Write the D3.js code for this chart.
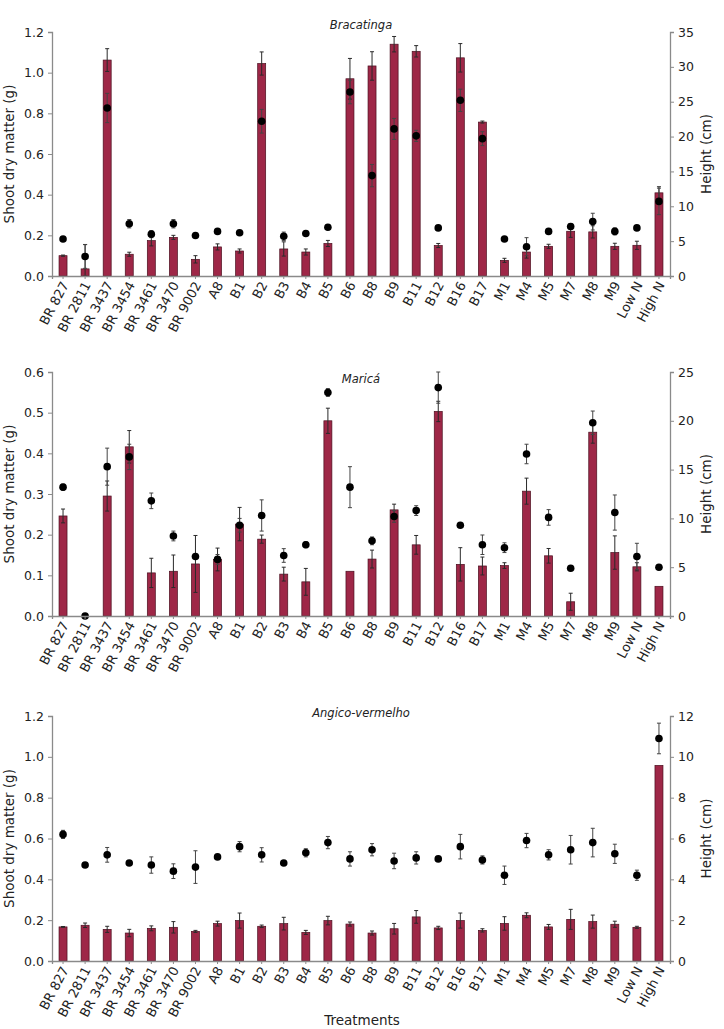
<!DOCTYPE html>
<html>
<head>
<meta charset="utf-8">
<script src="https://cdn.jsdelivr.net/npm/d3@7"></script>
<style>
  body { margin: 0; background: #fff; }
  svg text { font-family: 'DejaVu Sans', sans-serif; fill: #222; }
</style>
</head>
<body>
<div id="chart"></div>
<script>
let treatments = ['BR 827', 'BR 2811', 'BR 3437', 'BR 3454', 'BR 3461', 'BR 3470', 'BR 9002', 'A8',
  'B1', 'B2', 'B3', 'B4', 'B5', 'B6', 'B8', 'B9', 'B11', 'B12', 'B16', 'B17',
  'M1', 'M4', 'M5', 'M7', 'M8', 'M9', 'Low N', 'High N']

// Bracatinga
let bracDry = [0.100, 0.035, 1.062, 0.107, 0.174, 0.190, 0.082, 0.143, 0.123, 1.045, 0.133, 0.118, 0.160, 0.970,
  1.033, 1.140, 1.105, 0.150, 1.073, 0.757, 0.077, 0.118, 0.146, 0.220, 0.217, 0.146, 0.151, 0.409]
let bracDryErr = [0.003, 0.120, 0.056, 0.010, 0.026, 0.010, 0.018, 0.015, 0.010, 0.057, 0.035, 0.015, 0.015, 0.100,
  0.070, 0.038, 0.028, 0.010, 0.070, 0.005, 0.010, 0.030, 0.010, 0.030, 0.030, 0.015, 0.020, 0.030]
let bracHeight = [5.3, 2.8, 24.1, 7.5, 6.0, 7.5, 5.8, 6.4, 6.2, 22.2, 5.7, 6.1, 7.0, 26.4,
  14.4, 21.1, 20.1, 6.9, 25.2, 19.7, 5.3, 4.2, 6.4, 7.1, 7.8, 6.4, 6.9, 10.7]
let bracHeightErr = [0, 1.7, 2.1, 0.6, 0.5, 0.6, 0, 0, 0, 1.7, 0.6, 0, 0, 1.7,
  1.6, 1.5, 0.8, 0, 1.6, 1.0, 0, 1.3, 0.3, 0.4, 1.2, 0.5, 0, 1.9]

// Maricá
let mariDry = [0.246, 0, 0.295, 0.416, 0.106, 0.110, 0.128, 0.139, 0.226, 0.189, 0.103, 0.084, 0.480, 0.110,
  0.140, 0.261, 0.175, 0.503, 0.127, 0.123, 0.124, 0.307, 0.148, 0.035, 0.452, 0.156, 0.121, 0.073]
let mariDryErr = [0.017, 0, 0.037, 0.040, 0.036, 0.040, 0.070, 0.028, 0.041, 0.010, 0.017, 0.033, 0.031, 0,
  0.022, 0.014, 0.023, 0.025, 0.041, 0.022, 0.007, 0.032, 0.018, 0.021, 0.027, 0.041, 0.010, 0]
let mariHeight = [13.2, 0, 15.3, 16.3, 11.8, 8.2, 6.1, 5.8, 9.3, 10.3, 6.2, 7.3, 22.9, 13.2,
  7.7, 10.2, 10.8, 23.4, 9.3, 7.3, 7.0, 16.6, 10.1, 4.9, 19.8, 10.6, 6.1, 5.0]
let mariHeightErr = [0.3, 0, 1.9, 1.3, 0.8, 0.5, 0, 0.5, 0.7, 1.6, 0.7, 0.3, 0.4, 2.1,
  0.4, 0.6, 0.5, 1.6, 0, 1.0, 0.5, 1.0, 0.8, 0, 1.2, 1.8, 1.35, 0]

// Angico-vermelho
let angiDry = [0.167, 0.175, 0.155, 0.137, 0.160, 0.165, 0.145, 0.183, 0.198, 0.170, 0.183, 0.140, 0.198, 0.181,
  0.137, 0.158, 0.216, 0.162, 0.198, 0.150, 0.184, 0.224, 0.167, 0.204, 0.193, 0.180, 0.165, 0.958]
let angiDryErr = [0.002, 0.011, 0.015, 0.018, 0.012, 0.028, 0.005, 0.012, 0.037, 0.006, 0.031, 0.010, 0.021, 0.010,
  0.010, 0.026, 0.031, 0.008, 0.037, 0.008, 0.033, 0.012, 0.012, 0.049, 0.032, 0.015, 0.005, 0]
let angiHeight = [6.2, 4.7, 5.2, 4.8, 4.7, 4.4, 4.6, 5.1, 5.6, 5.2, 4.8, 5.3, 5.8, 5.0,
  5.45, 4.9, 5.05, 5.0, 5.6, 4.95, 4.2, 5.9, 5.2, 5.45, 5.8, 5.25, 4.2, 10.9]
let angiHeightErr = [0.2, 0, 0.36, 0, 0.4, 0.36, 0.8, 0, 0.25, 0.35, 0, 0.2, 0.3, 0.35,
  0.3, 0.38, 0.3, 0, 0.6, 0.2, 0.45, 0.35, 0.25, 0.7, 0.7, 0.47, 0.25, 0.75]

let panels = [
  { title: 'Bracatinga', dry: bracDry, dryErr: bracDryErr, height: bracHeight, heightErr: bracHeightErr,
    dryMax: 1.2, dryStep: 0.2, hMax: 35, hStep: 5, top: 32, bottom: 276, titleY: 25 },
  { title: 'Maricá', dry: mariDry, dryErr: mariDryErr, height: mariHeight, heightErr: mariHeightErr,
    dryMax: 0.6, dryStep: 0.1, hMax: 25, hStep: 5, top: 372, bottom: 616, titleY: 379 },
  { title: 'Angico-vermelho', dry: angiDry, dryErr: angiDryErr, height: angiHeight, heightErr: angiHeightErr,
    dryMax: 1.2, dryStep: 0.2, hMax: 12, hStep: 2, top: 716, bottom: 961, titleY: 713 }
]

let left = 52
let right = 670
let barColor = '#9e2747'
let axisColor = '#8a8a8a'

let svg = d3
  .select('#chart')
  .append('svg')
  .attr('width', 724)
  .attr('height', 1029)

let xScale = d3
  .scaleBand()
  .domain(treatments)
  .range([left, right])
  .padding(0)

let barWidth = 8

panels.forEach(p => {
  let g = svg.append('g')

  let yDry = d3.scaleLinear().domain([0, p.dryMax]).range([p.bottom, p.top])
  let yH = d3.scaleLinear().domain([0, p.hMax]).range([p.bottom, p.top])

  let rows = treatments.map((t, i) => ({
    name: t,
    dry: p.dry[i],
    dryErr: p.dryErr[i],
    height: p.height[i],
    heightErr: p.heightErr[i]
  }))

  let cx = d => xScale(d.name) + xScale.bandwidth() / 2

  // bars
  g.selectAll('.bar')
    .data(rows)
    .enter()
    .append('rect')
    .attr('class', 'bar')
    .attr('x', d => cx(d) - barWidth / 2)
    .attr('width', barWidth)
    .attr('y', d => yDry(d.dry))
    .attr('height', d => p.bottom - yDry(d.dry))
    .attr('fill', barColor)
    .attr('stroke', '#4a0f1f')
    .attr('stroke-width', 0.7)

  // bar error bars
  let barErr = g.selectAll('.bar-err')
    .data(rows.filter(d => d.dryErr > 0))
    .enter()
    .append('g')
    .attr('stroke', '#2a2a2a')
    .attr('stroke-width', 1)
  barErr.append('line')
    .attr('x1', cx).attr('x2', cx)
    .attr('y1', d => yDry(Math.max(0, d.dry - d.dryErr)))
    .attr('y2', d => yDry(d.dry + d.dryErr))
  barErr.append('line')
    .attr('x1', d => cx(d) - 2).attr('x2', d => cx(d) + 2)
    .attr('y1', d => yDry(d.dry + d.dryErr))
    .attr('y2', d => yDry(d.dry + d.dryErr))
  barErr.append('line')
    .attr('x1', d => cx(d) - 2).attr('x2', d => cx(d) + 2)
    .attr('y1', d => yDry(Math.max(0, d.dry - d.dryErr)))
    .attr('y2', d => yDry(Math.max(0, d.dry - d.dryErr)))

  // point error bars
  let ptErr = g.selectAll('.pt-err')
    .data(rows.filter(d => d.heightErr > 0))
    .enter()
    .append('g')
    .attr('stroke', '#444')
    .attr('stroke-width', 1)
  ptErr.append('line')
    .attr('x1', cx).attr('x2', cx)
    .attr('y1', d => yH(Math.max(0, d.height - d.heightErr)))
    .attr('y2', d => yH(d.height + d.heightErr))
  ptErr.append('line')
    .attr('x1', d => cx(d) - 2).attr('x2', d => cx(d) + 2)
    .attr('y1', d => yH(d.height + d.heightErr))
    .attr('y2', d => yH(d.height + d.heightErr))
  ptErr.append('line')
    .attr('x1', d => cx(d) - 2).attr('x2', d => cx(d) + 2)
    .attr('y1', d => yH(Math.max(0, d.height - d.heightErr)))
    .attr('y2', d => yH(Math.max(0, d.height - d.heightErr)))

  // points
  g.selectAll('.pt')
    .data(rows)
    .enter()
    .append('circle')
    .attr('cx', cx)
    .attr('cy', d => yH(d.height))
    .attr('r', 3.8)
    .attr('fill', '#000')

  // axes
  let leftAxis = d3.axisLeft(yDry)
    .tickValues(d3.range(0, p.dryMax + 1e-9, p.dryStep))
    .tickFormat(d3.format('.1f'))
    .tickSize(4)
    .tickPadding(4)
  let rightAxis = d3.axisRight(yH)
    .tickValues(d3.range(0, p.hMax + 1e-9, p.hStep))
    .tickSize(4)
    .tickPadding(4)
  let bottomAxis = d3.axisBottom(xScale).tickSize(3).tickFormat('')

  let la = g.append('g').attr('transform', `translate(${left},0)`).call(leftAxis)
  let ra = g.append('g').attr('transform', `translate(${right},0)`).call(rightAxis)
  let ba = g.append('g').attr('transform', `translate(0,${p.bottom})`).call(bottomAxis)

  ;[la, ra, ba].forEach(a => {
    a.selectAll('path').attr('stroke', axisColor).attr('stroke-width', 1.3)
    a.selectAll('line').attr('stroke', axisColor)
    a.selectAll('text').attr('font-size', 12.5).attr('fill', '#222')
  })

  // rotated category labels
  g.selectAll('.xlab')
    .data(treatments)
    .enter()
    .append('text')
    .attr('transform', d => `translate(${xScale(d) + xScale.bandwidth() / 2 + 3},${p.bottom + 7}) rotate(-62)`)
    .attr('text-anchor', 'end')
    .attr('dominant-baseline', 'middle')
    .attr('font-size', 13)
    .text(d => d)

  // title
  g.append('text')
    .attr('x', 361)
    .attr('y', p.titleY)
    .attr('text-anchor', 'middle')
    .attr('dominant-baseline', 'middle')
    .attr('font-size', 11.5)
    .attr('font-style', 'italic')
    .text(p.title)

  // axis titles
  g.append('text')
    .attr('transform', `translate(10,${(p.top + p.bottom) / 2}) rotate(-90)`)
    .attr('text-anchor', 'middle')
    .attr('dominant-baseline', 'middle')
    .attr('font-size', 13.5)
    .text('Shoot dry matter (g)')

  g.append('text')
    .attr('transform', `translate(707,${(p.top + p.bottom) / 2}) rotate(-90)`)
    .attr('text-anchor', 'middle')
    .attr('dominant-baseline', 'middle')
    .attr('font-size', 13.5)
    .text('Height (cm)')
})

svg.append('text')
  .attr('x', 362)
  .attr('y', 1025)
  .attr('text-anchor', 'middle')
  .attr('font-size', 13.5)
  .text('Treatments')
</script>
</body>
</html>
